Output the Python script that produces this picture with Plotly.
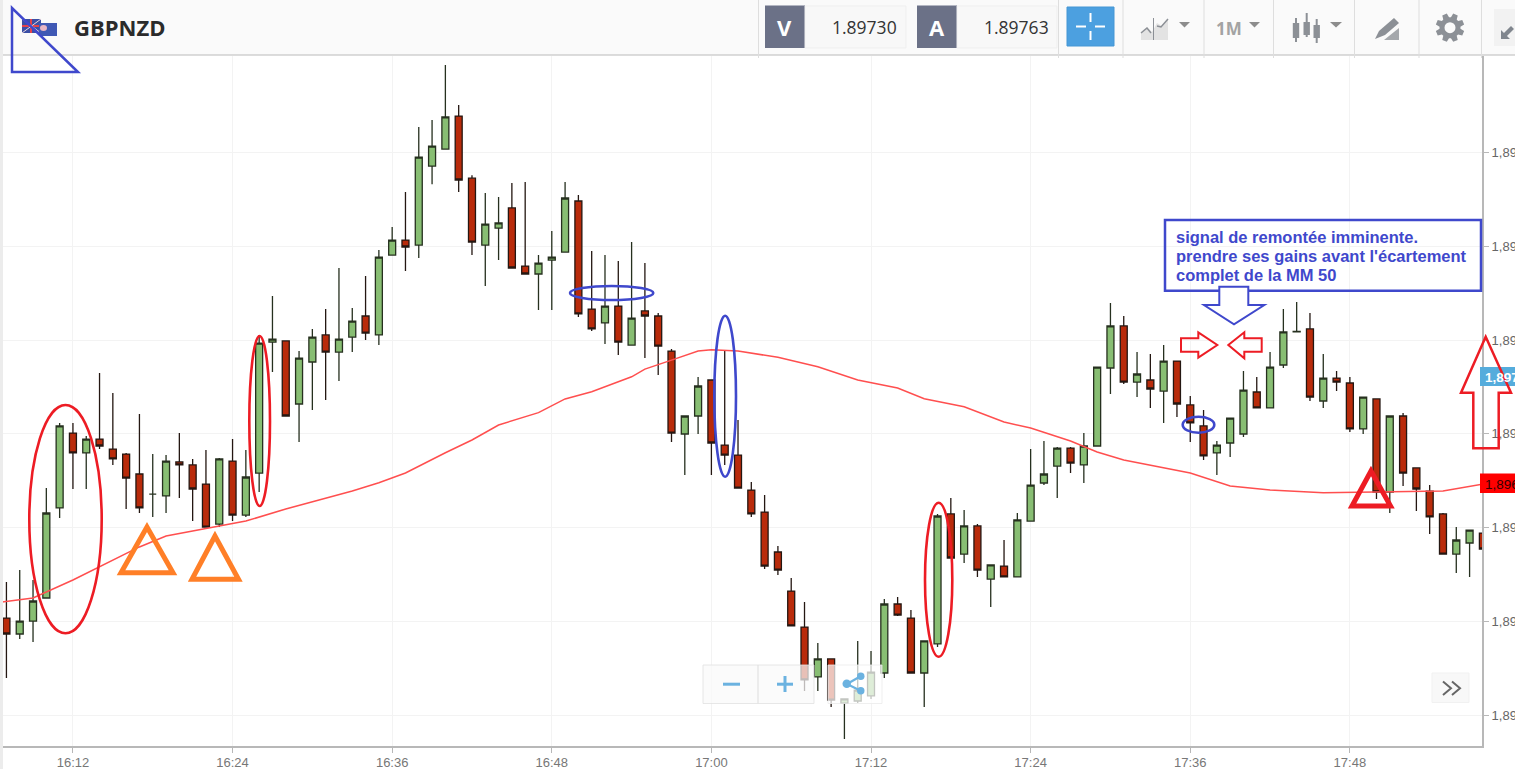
import numpy as np
import pandas as pd
import plotly.graph_objects as go

DAY = '2021-03-15 '

# one minute candles, 16:07 -> 17:58
times = pd.date_range(DAY + '16:07', periods=112, freq='min')

opens = [
    1.896018, 1.895933, 1.896002, 1.896125, 1.896605, 1.897004, 1.896898, 1.896972,
    1.896919, 1.896892, 1.896786, 1.896679, 1.896669, 1.896850, 1.896834, 1.896732,
    1.896519, 1.896855, 1.896567, 1.896791, 1.897489, 1.897495, 1.897159, 1.897383,
    1.897527, 1.897436, 1.897516, 1.897628, 1.897527, 1.897953, 1.898033, 1.898006,
    1.898427, 1.898518, 1.898694, 1.898363, 1.898006, 1.898097, 1.898204, 1.897894,
    1.897852, 1.897926, 1.897969, 1.898241, 1.897665, 1.897591, 1.897681, 1.897473,
    1.897655, 1.897628, 1.897441, 1.896999, 1.897095, 1.897287, 1.896940, 1.896887,
    1.896700, 1.896583, 1.896370, 1.896162, 1.895970, 1.895704, 1.895800, 1.895565,
    1.895576, 1.895603, 1.895725, 1.896093, 1.896018, 1.895725, 1.895880, 1.896573,
    1.896359, 1.896509, 1.896226, 1.896295, 1.896237, 1.896535, 1.896738, 1.896828,
    1.896924, 1.896834, 1.896935, 1.897351, 1.897575, 1.897276, 1.897287, 1.897228,
    1.897388, 1.897154, 1.897042, 1.896898, 1.896951, 1.896999, 1.897223, 1.897138,
    1.897367, 1.897543, 1.897559, 1.897175, 1.897297, 1.897271, 1.897026, 1.897186,
    1.896690, 1.897095, 1.896818, 1.896695, 1.896573, 1.896359, 1.896418, 1.896471,
]
highs = [
    1.896210, 1.896274, 1.896221, 1.896711, 1.897058, 1.897058, 1.896988, 1.897324,
    1.897218, 1.896898, 1.897106, 1.896892, 1.896887, 1.897004, 1.896866, 1.896914,
    1.896871, 1.896972, 1.896914, 1.897527, 1.897735, 1.897495, 1.897441, 1.897559,
    1.897665, 1.897884, 1.897671, 1.897841, 1.897980, 1.898102, 1.898289, 1.898635,
    1.898673, 1.898966, 1.898753, 1.898379, 1.898284, 1.898262, 1.898337, 1.898342,
    1.897953, 1.898081, 1.898342, 1.898273, 1.897974, 1.897953, 1.897921, 1.898022,
    1.897910, 1.897644, 1.897452, 1.897095, 1.897303, 1.897287, 1.897447, 1.897074,
    1.896743, 1.896674, 1.896402, 1.896231, 1.896104, 1.895885, 1.895800, 1.895587,
    1.895896, 1.895842, 1.896120, 1.896130, 1.896061, 1.895896, 1.896573, 1.896658,
    1.896594, 1.896519, 1.896301, 1.896434, 1.896578, 1.896919, 1.896962, 1.896930,
    1.896930, 1.897004, 1.897356, 1.897697, 1.897628, 1.897436, 1.897425, 1.897473,
    1.897388, 1.897202, 1.897127, 1.896962, 1.897084, 1.897335, 1.897303, 1.897436,
    1.897665, 1.897703, 1.897644, 1.897425, 1.897335, 1.897303, 1.897196, 1.897186,
    1.897095, 1.897111, 1.896818, 1.896727, 1.896578, 1.896503, 1.896487, 1.896514,
]
lows = [
    1.895698, 1.895906, 1.895890, 1.896125, 1.896551, 1.896706, 1.896706, 1.896919,
    1.896834, 1.896599, 1.896578, 1.896557, 1.896578, 1.896658, 1.896535, 1.896503,
    1.896503, 1.896535, 1.896557, 1.896690, 1.897329, 1.897095, 1.896956, 1.897127,
    1.897180, 1.897281, 1.897436, 1.897500, 1.897473, 1.897953, 1.897868, 1.897937,
    1.898331, 1.898518, 1.898289, 1.897953, 1.897788, 1.897926, 1.897884, 1.897852,
    1.897660, 1.897660, 1.897969, 1.897623, 1.897548, 1.897479, 1.897420, 1.897473,
    1.897404, 1.897313, 1.896956, 1.896780, 1.896999, 1.896780, 1.896834, 1.896711,
    1.896557, 1.896279, 1.896247, 1.895976, 1.895629, 1.895629, 1.895544, 1.895373,
    1.895565, 1.895587, 1.895698, 1.896029, 1.895725, 1.895544, 1.895864, 1.896338,
    1.896311, 1.896237, 1.896077, 1.896237, 1.896237, 1.896535, 1.896727, 1.896658,
    1.896791, 1.896738, 1.896935, 1.897212, 1.897265, 1.897196, 1.897138, 1.897058,
    1.897090, 1.896956, 1.896860, 1.896780, 1.896876, 1.896983, 1.897138, 1.897138,
    1.897351, 1.897543, 1.897175, 1.897138, 1.897228, 1.897010, 1.896999, 1.896653,
    1.896578, 1.896722, 1.896589, 1.896466, 1.896359, 1.896258, 1.896237, 1.896370,
]
closes = [
    1.895933, 1.896002, 1.896109, 1.896578, 1.897042, 1.896898, 1.896972, 1.896935,
    1.896866, 1.896764, 1.896605, 1.896679, 1.896855, 1.896834, 1.896706, 1.896503,
    1.896866, 1.896567, 1.896770, 1.897484, 1.897505, 1.897095, 1.897404, 1.897516,
    1.897436, 1.897505, 1.897601, 1.897537, 1.897942, 1.898033, 1.897996, 1.898475,
    1.898534, 1.898689, 1.898353, 1.898022, 1.898118, 1.898124, 1.897884, 1.897852,
    1.897910, 1.897942, 1.898257, 1.897639, 1.897559, 1.897681, 1.897489, 1.897617,
    1.897628, 1.897468, 1.897004, 1.897095, 1.897255, 1.896951, 1.896887, 1.896711,
    1.896573, 1.896295, 1.896274, 1.895976, 1.895688, 1.895800, 1.895581, 1.895587,
    1.895634, 1.895730, 1.896093, 1.896034, 1.895725, 1.895896, 1.896562, 1.896338,
    1.896509, 1.896274, 1.896301, 1.896237, 1.896541, 1.896727, 1.896786, 1.896924,
    1.896844, 1.896935, 1.897356, 1.897575, 1.897276, 1.897319, 1.897239, 1.897388,
    1.897159, 1.897058, 1.896882, 1.896940, 1.897084, 1.897233, 1.897138, 1.897356,
    1.897543, 1.897546, 1.897196, 1.897297, 1.897276, 1.897026, 1.897196, 1.896690,
    1.897095, 1.896791, 1.896706, 1.896557, 1.896359, 1.896434, 1.896487, 1.896386,
]

# moving average 50 at the places where it bends
ma_times = [
    '16:06', '16:09', '16:12', '16:15', '16:17', '16:19', '16:23', '16:25', '16:28', '16:31',
    '16:33', '16:35', '16:37', '16:40', '16:42', '16:44', '16:47', '16:49', '16:51', '16:54',
    '16:55', '16:57', '16:59', '17:00', '17:02', '17:05', '17:08', '17:11', '17:14', '17:16',
    '17:19', '17:22', '17:24', '17:27', '17:29', '17:31', '17:36', '17:39', '17:42', '17:46',
    '17:53', '17:55', '17:58',
]
ma_values = [
    1.896098, 1.896125, 1.896221, 1.896327, 1.896397, 1.896455, 1.896511, 1.896535, 1.896599, 1.896658,
    1.896695, 1.896739, 1.896791, 1.896899, 1.896967, 1.897047, 1.897113, 1.897186, 1.897224, 1.897304,
    1.897345, 1.897393, 1.897441, 1.897448, 1.897441, 1.897408, 1.897358, 1.897287, 1.897244, 1.897187,
    1.897144, 1.897063, 1.897031, 1.896962, 1.896903, 1.896860, 1.896791, 1.896722, 1.896700, 1.896686,
    1.896690, 1.896695, 1.896732,
]

x_ticks = ['16:12', '16:24', '16:36', '16:48', '17:00', '17:12', '17:24', '17:36', '17:48']
y_ticks = [1.8955, 1.8960, 1.8965, 1.8970, 1.8975, 1.8980, 1.8985]
y_labels = ['1,8955', '1,8960', '1,8965', '1,8970', '1,8975', '1,8980', '1,8985']

W, H = 1515, 769
L, R, T, B = 0, 1482, 56, 746  # plot area in page pixels

BLUE = '#3f48cc'
RED = '#ed1c24'
ORANGE = '#ff7f27'
ICON = '#8c9096'
LIGHTBLUE = '#6bb2e0'


def px(x):
    return (x - L) / (R - L)


def py(y):
    return (B - y) / (B - T)


shapes = []
notes = []


def rect(x0, y0, x1, y1, fill=None, line=None, width=1, opacity=1, layer='above'):
    shapes.append(dict(type='rect', xref='paper', yref='paper', layer=layer, opacity=opacity,
                       x0=px(x0), x1=px(x1), y0=py(y0), y1=py(y1),
                       fillcolor=fill or 'rgba(0,0,0,0)',
                       line=dict(color=line or 'rgba(0,0,0,0)', width=width if line else 0)))


def oval(x0, y0, x1, y1, color=None, width=3, fill=None):
    shapes.append(dict(type='circle', xref='paper', yref='paper', layer='above',
                       x0=px(x0), x1=px(x1), y0=py(y0), y1=py(y1),
                       fillcolor=fill or 'rgba(0,0,0,0)',
                       line=dict(color=color or 'rgba(0,0,0,0)', width=width if color else 0)))


def poly(points, color=None, width=2, fill=None, closed=True):
    path = 'M ' + ' L '.join('%.5f %.5f' % (px(x), py(y)) for x, y in points)
    if closed:
        path += ' Z'
    shapes.append(dict(type='path', xref='paper', yref='paper', layer='above', path=path,
                       fillcolor=fill or 'rgba(0,0,0,0)',
                       line=dict(color=color or 'rgba(0,0,0,0)', width=width if color else 0)))


def text(x, y, s, size, color, anchor='left', family='Open Sans', bold=False):
    if bold:
        s = '<b>' + s + '</b>'
    # annotations keep a small padding round the text, take it back
    shift = {'left': -3, 'right': 3, 'center': 0}[anchor]
    notes.append(dict(xref='paper', yref='paper', x=px(x), y=py(y), text=s, showarrow=False,
                      xanchor=anchor, yanchor='middle', align='left', xshift=shift,
                      font=dict(size=size, color=color, family=family)))


# top toolbar
rect(0, 0, W, 55, fill='#fafafa', layer='below')
rect(0, 54.5, W, 55.5, fill='#b9b9b9')
rect(0, 0, 3, H, fill='#ececec')
for sep in [758, 1058, 1122.5, 1203.5, 1273, 1354, 1418.5]:
    rect(sep, 0, sep + 1, 58, fill='#dedede')
rect(1481, 0, 1482, 58, fill='#dedede')

# flags
rect(22, 19, 41, 33, fill='#3b4fa5')
rect(22, 25, 41, 27, fill='#e2434b')
rect(30, 19, 32, 33, fill='#e2434b')
poly([(22, 19), (41, 33)], color='#e9d7dc', width=1, closed=False)
poly([(22, 33), (41, 19)], color='#e9d7dc', width=1, closed=False)
rect(39, 23, 57, 36, fill='#3f58b4')
oval(40, 25, 47, 31, fill='#e8b5c4')

text(75, 27, 'GBPNZD', 22, '#2b2b2b', bold=True)

# bid / ask boxes
rect(765, 5.5, 805, 48, fill='#6b7187')
rect(805, 6, 906, 48, fill='#f8f8f8', line='#efefef')
rect(917, 5.5, 957, 48, fill='#6b7187')
rect(957, 6, 1057, 48, fill='#f8f8f8', line='#efefef')
text(785, 27, 'V', 22, 'white', anchor='center', bold=True)
text(937, 27, 'A', 22, 'white', anchor='center', bold=True)
text(896, 27, '1.89730', 17.5, '#333333', anchor='right')
text(1048, 27, '1.89763', 17.5, '#333333', anchor='right')

# crosshair button
rect(1067, 7, 1114, 46, fill='#4ca0e0', line='#4596d4')
rect(1076, 25.5, 1086, 27.5, fill='white')
rect(1095, 25.5, 1105, 27.5, fill='white')
rect(1089.5, 13, 1091.5, 22, fill='white')
rect(1089.5, 31, 1091.5, 40, fill='white')

# chart type icon
poly([(1141, 40), (1141, 32), (1147, 27), (1152, 32), (1157, 23), (1162, 26), (1168, 19), (1168, 40)],
     fill='#e3e3e3')
poly([(1141, 33), (1147, 28), (1151, 33)], color=ICON, width=1.5, closed=False)
poly([(1157, 26), (1161, 27), (1168, 19)], color=ICON, width=1.5, closed=False)
rect(1153, 18, 1154, 40, fill=ICON)
for a, b in [(1179, 1190), (1249, 1260), (1330, 1342)]:
    poly([(a, 22), (b, 22), ((a + b) / 2, 27.5)], fill='#8c8c8c')
text(1217, 28, '1M', 17, '#a3a3a3', bold=True)

# candle icon
for cx, top, bot, hi, lo in [(1296, 23, 38, 18, 42), (1306.7, 22, 35, 13, 37), (1316.7, 25, 38, 19, 43)]:
    rect(cx - 1, hi, cx + 1, lo, fill=ICON)
    rect(cx - 3.2, top, cx + 3.2, bot, fill=ICON)

# pencil icon
poly([(1375, 39), (1379, 31), (1394, 18), (1399, 23), (1385, 35)], fill=ICON)
poly([(1384, 40), (1399, 28), (1399, 40)], fill='#a5a8ac')

# gear, teeth made by going round the circle
gear = []
for k in range(8):
    for da, rad in [(-0.30, 10.5), (-0.17, 14.5), (0.17, 14.5), (0.30, 10.5)]:
        ang = k * np.pi / 4 + np.pi / 8 + da
        gear.append((1450 + rad * np.cos(ang), 27.7 + rad * np.sin(ang)))
poly(gear, fill=ICON)
oval(1444.5, 22.2, 1455.5, 33.2, fill='#fafafa')

# fullscreen icon, runs off the page
rect(1494, 9, W, 46, fill='#f2f2f2')
poly([(1501, 39), (1501, 30), (1504, 33), (1511, 26), (1514, 29), (1507, 36), (1510, 39)], fill='#80868e')

# zoom and share buttons on the chart
rect(703, 665, 814, 703.5, fill='rgba(250,250,250,0.72)', line='rgba(225,225,225,0.8)')
rect(757.5, 665, 758.5, 703.5, fill='#dddddd')
rect(723, 682.7, 740, 685.7, fill=LIGHTBLUE)
rect(777, 682.7, 793, 685.7, fill=LIGHTBLUE)
rect(783.5, 676, 786.5, 692, fill=LIGHTBLUE)
rect(828, 665, 882, 703.5, fill='rgba(255,255,255,0.72)', line='rgba(235,235,235,0.8)')
poly([(861, 676), (847, 684), (861, 691)], color=LIGHTBLUE, width=2.2, closed=False)
oval(842.5, 679.5, 851, 688, fill=LIGHTBLUE)
oval(857, 672.5, 864.5, 680, fill=LIGHTBLUE)
oval(857, 687, 864.5, 694.5, fill=LIGHTBLUE)
rect(1432, 673, 1469, 702.5, fill='#f8f8f8', line='#f1f1f1')
poly([(1443, 681.5), (1451, 688.3), (1443, 695)], color='#666666', width=2, closed=False)
poly([(1452, 681.5), (1460, 688.3), (1452, 695)], color='#666666', width=2, closed=False)

# price tags on the right
rect(1480, 367, W + 6, 386, fill='#55acdc')
text(1486, 377, '1,89730', 13.5, 'white', family='Liberation Sans', bold=True)
rect(1480, 473.5, W + 6, 493, fill='#ff0000')
text(1486, 484, '1,89673', 13.5, '#330000', family='Liberation Sans')

# hand drawn stuff
poly([(12, 8), (12, 72), (78, 72)], color=BLUE, width=2.5)
oval(29.3, 405, 101.7, 633.3, color=RED, width=2.6)
oval(249.3, 336, 270, 506, color=RED, width=2.6)
oval(925, 502.7, 952.3, 656.7, color=RED, width=2.6)
oval(570, 286, 653.3, 300, color=BLUE, width=2.6)
oval(714.3, 315.7, 736, 476.7, color=BLUE, width=2.6)
oval(1182.7, 416.7, 1214.3, 432.7, color=BLUE, width=2.6)
poly([(147, 527), (121, 572.7), (173, 572.7)], color=ORANGE, width=5)
poly([(215, 536), (192, 579.3), (238.5, 579.3)], color=ORANGE, width=5)
poly([(1371, 471), (1352, 506), (1390.5, 506)], color=RED, width=5)

# note with its arrows
rect(1165, 220, 1481, 290.7, line=BLUE, width=2.5)
text(1177, 236.5, 'signal de remontée imminente.', 16.5, BLUE, family='Liberation Sans', bold=True)
text(1177, 255.5, "prendre ses gains avant l'écartement", 16.5, BLUE, family='Liberation Sans', bold=True)
text(1177, 274.5, 'complet de la MM 50', 16.5, BLUE, family='Liberation Sans', bold=True)
poly([(1219.3, 286.7), (1219.3, 305), (1204, 305), (1234, 324.3), (1264.3, 305), (1248.3, 305), (1248.3, 286.7)],
     color=BLUE, width=2, fill='white')
poly([(1181, 338.3), (1198.3, 338.3), (1198.3, 332.3), (1217.3, 345), (1198.3, 357.7), (1198.3, 351.7), (1181, 351.7)],
     color=RED, width=2)
poly([(1261.7, 338.3), (1244.3, 338.3), (1244.3, 332.3), (1228.3, 345), (1244.3, 358.3), (1244.3, 351.7), (1261.7, 351.7)],
     color=RED, width=2)
poly([(1485.7, 336.7), (1461, 392.7), (1473.3, 392.7), (1473.3, 448.3), (1498.7, 448.3), (1498.7, 392.7), (1511, 392.7)],
     color=RED, width=2.5)

fig = go.Figure()
fig.add_trace(go.Candlestick(
    x=times, open=opens, high=highs, low=lows, close=closes,
    increasing=dict(fillcolor='#88be73', line=dict(color='#26301f', width=1.3)),
    decreasing=dict(fillcolor='#b92b0b', line=dict(color='#241712', width=1.3)),
    whiskerwidth=0, showlegend=False))
fig.add_trace(go.Scatter(x=[DAY + t for t in ma_times], y=ma_values, mode='lines',
                         line=dict(color='#ff4f4f', width=1.5), showlegend=False))

fig.update_layout(
    width=W, height=H, paper_bgcolor='white', plot_bgcolor='white',
    margin=dict(l=L, r=W - R, t=T, b=H - B, autoexpand=False),
    boxgap=0.25,
    shapes=shapes, annotations=notes,
)
fig.update_xaxes(range=[DAY + '16:06:31', DAY + '17:57:56'], rangeslider_visible=False,
                 tickmode='array', tickvals=[DAY + t for t in x_ticks], ticktext=x_ticks,
                 showgrid=True, gridcolor='#f3f3f3', gridwidth=1, zeroline=False,
                 showline=True, linecolor='#b8b8b8', linewidth=2,
                 ticks='outside', ticklen=5, tickcolor='#b8b8b8', ticklabelstandoff=-2,
                 tickfont=dict(family='Liberation Sans', size=13, color='#777777'))
fig.update_yaxes(range=[1.895336, 1.899014], side='right',
                 tickmode='array', tickvals=y_ticks, ticktext=y_labels,
                 showgrid=True, gridcolor='#f3f3f3', gridwidth=1, zeroline=False,
                 showline=True, linecolor='#b8b8b8', linewidth=2,
                 ticks='outside', ticklen=5, tickcolor='#b8b8b8',
                 tickfont=dict(family='Liberation Sans', size=13, color='#666666'))

fig.write_html('out.html', config=dict(displayModeBar=False),
               post_script="document.body.style.margin='0';document.body.style.overflow='hidden';")
